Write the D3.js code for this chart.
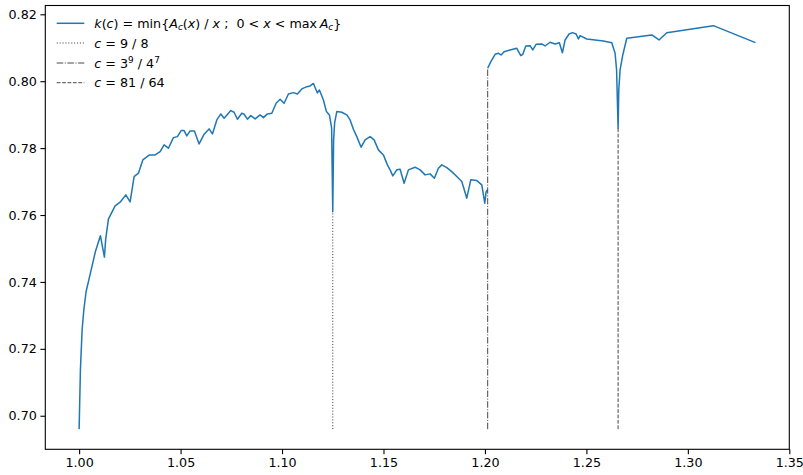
<!DOCTYPE html>
<html><head><meta charset="utf-8">
<script src="https://cdn.jsdelivr.net/npm/d3@7"></script>
<style>body{margin:0;background:#fff} svg{display:block}</style>
</head><body><svg id="chart" width="803" height="475"></svg>
<script>
// ---- data ----
const cValues = [
 1.0000,1.00064,1.00148,1.00232,1.00345,1.00557,1.00803,1.0105,1.01247,1.01306,
 1.01444,1.01774,1.0202,1.02301,1.02513,1.0271,1.02922,1.03139,1.03464,1.03745,
 1.03992,1.04189,1.04401,1.04647,1.04844,1.05027,1.05174,1.05307,1.0547,1.05682,
 1.05914,1.0616,1.06406,1.06569,1.06786,1.06983,1.07146,1.07476,1.07638,1.07801,
 1.08018,1.08131,1.08294,1.08462,1.08674,1.0892,1.09083,1.0928,1.09497,1.09709,
 1.09905,1.10103,1.10315,1.10561,1.10758,1.10975,1.11221,1.11384,1.11547,1.11744,
 1.11843,1.1204,1.12188,1.12335,1.12444,1.125,1.12542,1.12592,1.127,1.12946,
 1.13193,1.13355,1.13518,1.13685,1.13897,1.14094,1.14341,1.14537,1.14749,1.14995,
 1.15193,1.15326,1.15459,1.15656,1.15819,1.16016,1.16228,1.16558,1.16805,1.17051,
 1.17297,1.17509,1.17706,1.17874,1.1812,1.18366,1.18613,1.18859,1.19105,1.19302,
 1.19598,1.19845,1.19992,1.20057,1.2012,1.20128,
 1.20135,1.20292,1.20501,1.20664,1.20796,1.20944,1.2124,1.2157,1.21767,1.21866,
 1.22014,1.22225,1.22358,1.22521,1.22801,1.22964,1.2321,1.23457,1.23669,1.23817,
 1.2395,1.24147,1.2431,1.24492,1.24606,1.24689,1.25019,1.25428,1.25837,1.26251,
 1.26414,1.26488,1.265625,1.26596,1.2666,1.26793,1.2699,1.28222,1.2858,1.2896,
 1.31256,1.33333
];
const kValues = [
 0.6960,0.71375,0.7257,0.73167,0.73714,0.74264,0.74909,0.75378,0.74742,0.75258,
 0.75877,0.76274,0.76384,0.76603,0.76393,0.77149,0.77251,0.77648,0.77797,0.77797,
 0.77896,0.78096,0.77997,0.78314,0.78344,0.78523,0.78523,0.78365,0.78514,0.78514,
 0.78126,0.78416,0.78574,0.78424,0.78843,0.79022,0.78894,0.79121,0.79073,0.78864,
 0.79043,0.79013,0.78864,0.78971,0.78873,0.78992,0.78911,0.79022,0.79043,0.79342,
 0.79461,0.79342,0.79619,0.79658,0.79619,0.79769,0.79837,0.79858,0.79933,0.79649,
 0.79739,0.7944,0.79091,0.78992,0.78604,0.7610,0.78245,0.78753,0.79091,0.79073,
 0.78992,0.78843,0.78565,0.78344,0.78027,0.78245,0.78344,0.78245,0.77947,0.77797,
 0.77499,0.7735,0.7717,0.7735,0.7737,0.76952,0.7735,0.7743,0.7735,0.7720,
 0.7723,0.77101,0.7740,0.77499,0.77418,0.77298,0.77149,0.7700,0.76504,0.77051,
 0.7703,0.76901,0.76354,0.76692,0.76752,NaN,
 0.80387,0.80584,0.80805,0.80835,0.80784,0.80883,0.80934,0.80984,0.80763,0.80805,
 0.81053,0.81062,0.80934,0.81104,0.81113,0.81053,0.81164,0.81113,0.81152,0.8085,
 0.81232,0.81412,0.81451,0.81412,0.81262,0.81361,0.81262,0.81232,0.81202,0.81152,
 0.80835,0.80336,0.78595,0.79739,0.80336,0.80784,0.81283,0.81382,0.81232,0.8145,
 0.8166,0.81152
];
const specialC = [1.125, 1.20135, 1.265625];
const specialK = [0.7610, 0.80387, 0.78595];
const specialStyle = ["dotted", "dashdot", "dashed"];
const xTicks = [1.00, 1.05, 1.10, 1.15, 1.20, 1.25, 1.30, 1.35];
const yTicks = [0.70, 0.72, 0.74, 0.76, 0.78, 0.80, 0.82];

// ---- layout ----
const svg = d3.select("#chart");
const L = 45.3, R = 789.3, T = 5.5, B = 449.3;
const FONT = "DejaVu Sans, Liberation Sans, sans-serif";
const fs = 12.7;

const valid = kValues.filter(v => !isNaN(v));
const xmin = d3.min(cValues), xmax = d3.max(cValues);
const ymin = d3.min(valid), ymax = d3.max(valid);
const xr = xmax - xmin, yr = ymax - ymin;
const x = d3.scaleLinear().domain([xmin - 0.05 * xr, xmax + 0.05 * xr]).range([L, R]);
const y = d3.scaleLinear().domain([ymin - 0.05 * yr, ymax + 0.05 * yr]).range([B, T]);

const dashes = {
  dotted: "1.1,1.8",
  dashed: "3.8,1.6",
  dashdot: "6.5,1.6,1,1.6"
};

const data = cValues.map((c, i) => ({c, k: kValues[i]}));
const line = d3.line().defined(d => !isNaN(d.k)).x(d => x(d.c)).y(d => y(d.k));

svg.append("path").datum(data)
  .attr("d", line).attr("fill", "none")
  .attr("stroke", "#1f77b4").attr("stroke-width", 1.5)
  .attr("stroke-linejoin", "round").attr("stroke-linecap", "butt");

// vertical reference lines
specialC.forEach((c, i) => {
  svg.append("line")
    .attr("x1", x(c)).attr("x2", x(c))
    .attr("y1", y(ymin)).attr("y2", y(specialK[i]))
    .attr("stroke", "#333").attr("stroke-width", 0.9)
    .attr("stroke-dasharray", dashes[specialStyle[i]]);
});

// axes
const xAxis = d3.axisBottom(x).tickValues(xTicks).tickFormat(d3.format(".2f")).tickSizeOuter(0).tickSize(4.9).tickPadding(3.6);
const yAxis = d3.axisLeft(y).tickValues(yTicks).tickFormat(d3.format(".2f")).tickSizeOuter(0).tickSize(4.9).tickPadding(3.6);
const gx = svg.append("g").attr("transform", `translate(0,${B})`).call(xAxis);
const gy = svg.append("g").attr("transform", `translate(${L},0)`).call(yAxis);
[gx, gy].forEach(g => {
  g.select(".domain").remove();
  g.selectAll("line").attr("stroke", "#000").attr("stroke-width", 1.1);
  g.selectAll("text").attr("font-family", FONT).attr("font-size", fs).attr("fill", "#000");
});

// frame
svg.append("rect").attr("x", L).attr("y", T).attr("width", R - L).attr("height", B - T)
  .attr("fill", "none").attr("stroke", "#000").attr("stroke-width", 1.1);

// legend
const legendRows = [
  {style: "solid", parts: [
    {t: "k", i: 1}, {t: "(", }, {t: "c", i: 1}, {t: ") = min{"}, {t: "A", i: 1}, {t: "c", i: 1, sub: 1},
    {t: "(", }, {t: "x", i: 1}, {t: ") / "}, {t: "x", i: 1}, {t: " ;  0 < "}, {t: "x", i: 1},
    {t: " < max\u2009"}, {t: "A", i: 1}, {t: "c", i: 1, sub: 1}, {t: "}"}]},
  {style: "dotted", parts: [{t: "c", i: 1}, {t: " = 9 / 8"}]},
  {style: "dashdot", parts: [{t: "c", i: 1}, {t: " = 3"}, {t: "9", sup: 1}, {t: " / 4"}, {t: "7", sup: 1}]},
  {style: "dashed", parts: [{t: "c", i: 1}, {t: " = 81 / 64"}]}
];
const rowY = [23.3, 43, 63, 82.7];
const lg = svg.append("g");
legendRows.forEach((row, r) => {
  const yy = rowY[r];
  const ln = lg.append("line").attr("x1", 56.7).attr("x2", 84.3).attr("y1", yy).attr("y2", yy);
  if (row.style === "solid") ln.attr("stroke", "#1f77b4").attr("stroke-width", 1.5);
  else ln.attr("stroke", "#333").attr("stroke-width", 0.9).attr("stroke-dasharray", dashes[row.style]);
  const tx = lg.append("text").attr("x", 94.3).attr("y", yy + 4.5)
    .attr("font-family", FONT).attr("font-size", fs).attr("fill", "#000")
    .attr("xml:space", "preserve").style("white-space", "pre");
  let shift = 0;
  row.parts.forEach(p => {
    const ts = tx.append("tspan").text(p.t);
    if (p.i) ts.attr("font-style", "italic");
    let target = 0;
    if (p.sub) { ts.attr("font-size", fs * 0.7); target = 2.5; }
    else if (p.sup) { ts.attr("font-size", fs * 0.7); target = -5; }
    if (target !== shift) { ts.attr("dy", target - shift); shift = target; }
  });
});
</script>
</body></html>
